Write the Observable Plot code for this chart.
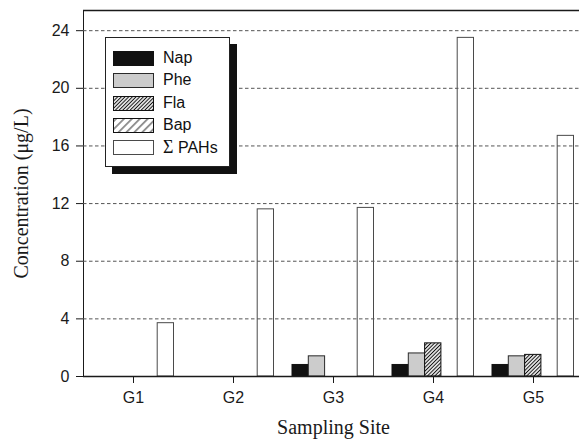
<!DOCTYPE html>
<html>
<head>
<meta charset="utf-8">
<script src="https://cdn.jsdelivr.net/npm/d3@7"></script>
<script src="https://cdn.jsdelivr.net/npm/@observablehq/plot@0.6"></script>
<style>
  html, body { margin: 0; padding: 0; background: #fff; overflow: hidden; }
  #wrap { position: relative; width: 579px; height: 441px; overflow: hidden; }
  #wrap > svg { max-width: none !important; }
  #legend {
    position: absolute; left: 105px; top: 37px; width: 123px; height: 128px;
    background: #fff; border: 1.2px solid #222; box-shadow: 7px 7px 0 #111;
    font-family: "Liberation Sans", Arial, sans-serif; font-size: 16px; color: #111;
  }
  .row { position: absolute; left: 7px; height: 15px; }
  .row svg { position: absolute; left: 0; top: 0; }
  .row span { position: absolute; left: 50px; top: -2px; white-space: nowrap; line-height: 18px; }
  .sig { font-family: "Liberation Serif", "Times New Roman", serif; font-size: 18px; }
</style>
</head>
<body>
<svg width="0" height="0" style="position:absolute">
  <defs>
    <pattern id="hatchFla" width="2.6" height="10" patternUnits="userSpaceOnUse" patternTransform="rotate(45)">
      <rect width="2.6" height="10" fill="#fff"></rect>
      <line x1="1.3" y1="0" x2="1.3" y2="10" stroke="#111" stroke-width="1.1"></line>
    </pattern>
    <pattern id="hatchBap" width="5.6" height="10" patternUnits="userSpaceOnUse" patternTransform="rotate(45)">
      <rect width="5.6" height="10" fill="#fff"></rect>
      <line x1="2.8" y1="0" x2="2.8" y2="10" stroke="#111" stroke-width="0.9"></line>
    </pattern>
  </defs>
</svg>
<div id="wrap"></div>
<script>
const sites = ["G1", "G2", "G3", "G4", "G5"];
const nap  = [0, 0, 0.8, 0.8, 0.8];
const phe  = [0, 0, 1.4, 1.6, 1.4];
const fla  = [0, 0, 0, 2.3, 1.5];
const bap  = [0, 0, 0, 0, 0];
const pahs = [3.7, 11.6, 11.7, 23.5, 16.7];
const seriesNames = ["Nap", "Phe", "Fla", "Bap", "Σ PAHs"];
const yTicks = [0, 4, 8, 12, 16, 20, 24];
const yMax = 25.4;

const seriesValues = [nap, phe, fla, bap, pahs];
const fills = ["#111", "#cccccc", "url(#hatchFla)", "url(#hatchBap)", "#fff"];
const strokes = ["#111", "#2a2a2a", "#111", "#111", "#4a4a4a"];

const step = 16.3, startOff = 9;
const barMarks = seriesValues.map((vals, i) => {
  const data = sites.map((s, j) => ({site: s, value: vals[j]})).filter(d => d.value > 0);
  return Plot.barY(data, {
    x: "site", y: "value",
    fill: fills[i], stroke: strokes[i], strokeWidth: 1,
    insetLeft: startOff + step * i,
    insetRight: 100 - (startOff + step * (i + 1))
  });
});

const chart = Plot.plot({
  width: 583, height: 441,
  marginLeft: 83, marginRight: 0, marginTop: 10, marginBottom: 65,
  style: {fontFamily: "'Liberation Sans', Arial, sans-serif", fontSize: "16px", color: "#1a1a1a", background: "transparent", overflow: "hidden", maxWidth: "none"},
  x: {domain: sites, padding: 0, tickSize: 7, tickPadding: 8, label: "Sampling Site", labelAnchor: "center", labelOffset: 57, labelArrow: "none"},
  y: {domain: [0, yMax], ticks: yTicks, tickSize: 7, tickPadding: 7, line: true, label: "Concentration (μg/L)", labelAnchor: "center", labelOffset: 70, labelArrow: "none"},
  marks: [
    ...barMarks,
    Plot.ruleY(yTicks.filter(d => d > 0), {stroke: "#555", strokeWidth: 1, strokeDasharray: "3.5,2.5"}),
    Plot.ruleY([0, yMax], {stroke: "#1a1a1a", strokeWidth: 1.3})
  ]
});

d3.select(chart).selectAll("text").each(function() {
  const t = this.textContent;
  if (t.includes("Sampling") || t.includes("Concentration")) {
    d3.select(this).style("font-family", "'Liberation Serif', 'Times New Roman', serif").style("font-size", "20px").attr("fill", "#1a1a1a");
  }
});

const wrap = document.getElementById("wrap");
wrap.appendChild(chart);

// legend overlay
const legend = document.createElement("div");
legend.id = "legend";
seriesNames.forEach((name, i) => {
  const row = document.createElement("div");
  row.className = "row";
  row.style.top = (13 + i * 22.3) + "px";
  row.innerHTML = `<svg width="41" height="16"><rect x="0.5" y="0.5" width="40" height="14" fill="${fills[i]}" stroke="${strokes[i]}" stroke-width="1"></rect></svg>` +
    (name.startsWith("Σ") ? `<span><span class="sig" style="position:static">Σ</span> ${name.slice(2)}</span>` : `<span>${name}</span>`);
  legend.appendChild(row);
});
wrap.appendChild(legend);
</script>
</body>
</html>
